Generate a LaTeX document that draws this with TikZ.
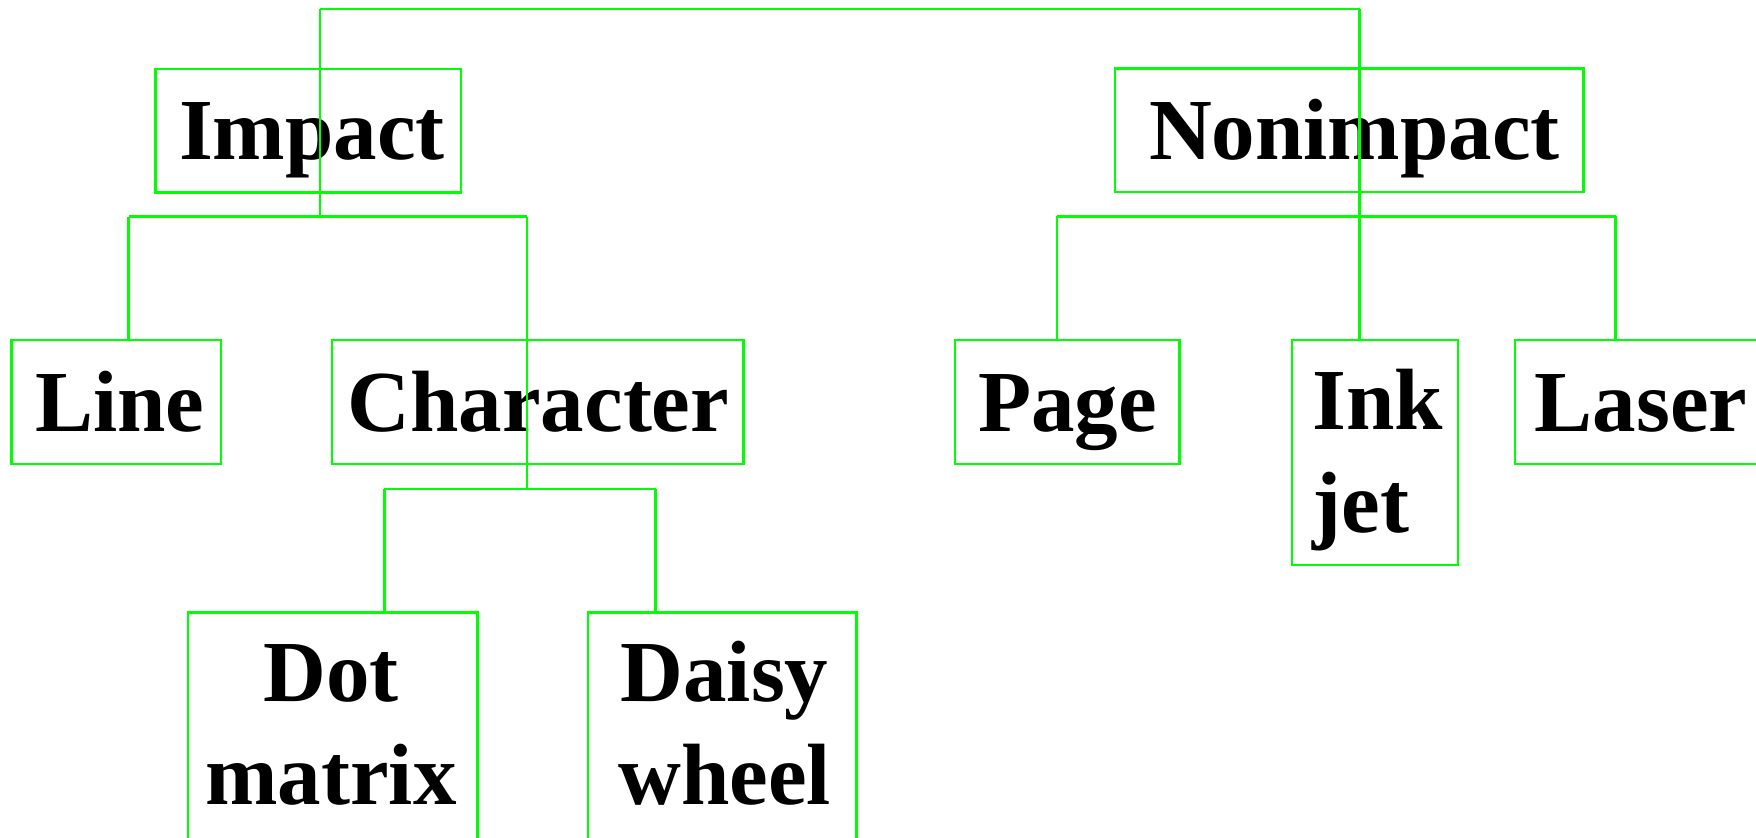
\documentclass[tikz,border=0pt]{standalone}
\usepackage{fontspec}
\setmainfont{Liberation Serif}
\definecolor{lgreen}{RGB}{0,255,0}
\begin{document}
\begin{tikzpicture}[x=0.5pt,y=-0.5pt,
  box/.style={draw=lgreen, line width=1.3pt, inner sep=0pt, rectangle},
  conn/.style={draw=lgreen, line width=1.3pt},
  lbl/.style={font=\fontsize{43.5}{51.5}\selectfont\bfseries, inner sep=0pt, anchor=base}]
\useasboundingbox (0,0) rectangle (1756,837);
\clip (0,0) rectangle (1756,837);
% boxes
\node[box, minimum width=152.7pt, minimum height=61.65pt] (impact) at (308.3,130.65) {};
\node[box, minimum width=104.75pt, minimum height=62pt] (line) at (116.25,402) {};
\node[box, minimum width=205.8pt, minimum height=62pt] (char) at (537.6,402) {};
\node[box, minimum width=144.75pt, minimum height=143.65pt] (dot) at (332.55,756.35) {};
\node[box, minimum width=134.45pt, minimum height=143.65pt] (daisy) at (722.25,756.35) {};
\node[box, minimum width=234.35pt, minimum height=61.65pt] (nonimpact) at (1349.35,130.35) {};
\node[box, minimum width=112.15pt, minimum height=62pt] (page) at (1067.15,402) {};
\node[box, minimum width=83pt, minimum height=112.5pt] (ink) at (1375,452.5) {};
\node[box, minimum width=142.5pt, minimum height=62pt] (laser) at (1657.5,402) {};
% labels
\node[lbl] (timpact) at (312,159.3) {Impact};
\node[lbl] (tnonimpact) at (1354.5,159.5) {Nonimpact};
\node[lbl] (tline) at (119.7,431.5) {Line};
\node[lbl] (tchar) at (538.4,431.5) {Character};
\node[lbl] (tpage) at (1067.6,431) {Page};
\node[lbl] (tlaser) at (1641,431) {Laser};
\node[lbl, anchor=base west, text width=80pt, align=left] (tink) at (1312,429) {Ink\\jet};
\node[lbl, text width=140pt, align=center] (tdot) at (331,701.7) {Dot\\matrix};
\node[lbl, text width=130pt, align=center] (tdaisy) at (724.5,701.7) {Daisy\\wheel};
% connector points
\coordinate (t1) at (320,9);
\coordinate (t2) at (1359.5,9);
\coordinate (ib) at (320,216.7);
\coordinate (il) at (128.6,216.7);
\coordinate (ir) at (527,216.7);
\coordinate (cb) at (527,489);
\coordinate (cl) at (384.4,489);
\coordinate (cr) at (655.7,489);
\coordinate (nl) at (1056.8,216.4);
\coordinate (nr) at (1615.5,216.4);
% connectors
\draw[conn] (t1) -- (t2);
\draw[conn] (t1) -- (ib);
\draw[conn] (il) -- (ir);
\draw[conn] (il) -- (il |- line.north);
\draw[conn] (ir) -- (cb);
\draw[conn] (cl) -- (cr);
\draw[conn] (cl) -- (cl |- dot.north);
\draw[conn] (cr) -- (cr |- daisy.north);
\draw[conn] (t2) -- (t2 |- ink.north);
\draw[conn] (nl) -- (nr);
\draw[conn] (nl) -- (nl |- page.north);
\draw[conn] (nr) -- (nr |- laser.north);
\end{tikzpicture}
\end{document}
